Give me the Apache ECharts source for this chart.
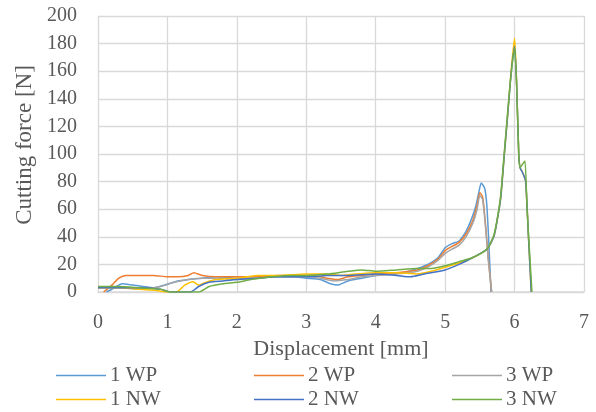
<!DOCTYPE html>
<html>
<head>
<meta charset="utf-8">
<script src="https://cdn.jsdelivr.net/npm/echarts@6/dist/echarts.min.js"></script>
<style>
html,body{margin:0;padding:0;background:#fff;}
#c{width:596px;height:412px;}
</style>
</head>
<body>
<div id="c"></div>
<script>
// Tick labels
const xTicks = [0, 1, 2, 3, 4, 5, 6, 7];
const yTicks = [0, 20, 40, 60, 80, 100, 120, 140, 160, 180, 200];

// Series names
const seriesNames = ['1 WP', '2 WP', '3 WP', '1 NW', '2 NW', '3 NW'];

// Series values: [displacement mm, force N]
const wp1 = [[0.12,0],[0.2,2],[0.35,6],[0.5,5],[0.65,4],[0.8,3],[0.95,5],[1.15,8],[1.3,9],[1.5,10],[1.7,11],[2.0,10],[2.2,10],[2.5,11],[2.8,11],[3.0,10],[3.2,9],[3.35,6],[3.45,5],[3.6,8],[3.8,10],[4.0,12],[4.2,13],[4.4,14],[4.6,17],[4.75,20],[4.9,25],[5.0,32],[5.1,35],[5.2,37],[5.3,44],[5.38,53],[5.44,62],[5.48,71],[5.52,79],[5.57,75],[5.6,63],[5.63,35],[5.66,0]];
const wp2 = [[0.08,0],[0.2,5],[0.3,10],[0.4,12],[0.6,12],[0.8,12],[1.0,11],[1.15,11],[1.3,12],[1.38,14],[1.5,12],[1.7,11],[2.0,11],[2.3,11],[2.6,12],[2.9,12],[3.1,12],[3.3,10],[3.45,9],[3.6,11],[3.8,12],[4.0,13],[4.3,14],[4.6,16],[4.75,19],[4.9,24],[5.0,30],[5.1,33],[5.2,36],[5.3,42],[5.4,52],[5.46,63],[5.5,72],[5.54,69],[5.58,50],[5.62,25],[5.67,0]];
const wp3 = [[0,3],[0.3,3],[0.6,2],[0.9,4],[1.1,7],[1.3,9],[1.5,10],[1.8,10],[2.0,9],[2.3,10],[2.6,11],[3.0,11],[3.2,10],[3.4,8],[3.6,9],[3.8,11],[4.0,12],[4.3,13],[4.6,15],[4.75,18],[4.9,23],[5.0,28],[5.1,31],[5.2,34],[5.3,40],[5.4,50],[5.46,60],[5.5,70],[5.54,67],[5.58,48],[5.62,24],[5.67,0]];
const nw1 = [[0,3],[0.3,3],[0.6,2],[0.85,1],[1.0,0],[1.13,0],[1.25,5],[1.37,7.5],[1.45,5],[1.55,7],[1.7,9],[2.0,10],[2.3,12],[2.6,12],[3.0,13],[3.3,13],[3.5,12],[3.7,13],[4.0,14],[4.3,14],[4.6,13],[4.8,15],[5.0,18],[5.2,21],[5.4,25],[5.6,31],[5.7,40],[5.75,52],[5.8,68],[5.85,98],[5.9,128],[5.95,160],[6.0,184],[6.03,150],[6.06,100],[6.08,90],[6.12,86],[6.16,80],[6.2,40],[6.24,0]];
const nw2 = [[0,3],[0.3,3],[0.6,3],[0.9,2],[1.05,0],[1.33,0],[1.45,4],[1.6,7],[1.8,8],[2.0,9],[2.3,10],[2.6,11],[3.0,11],[3.3,12],[3.6,12],[4.0,13],[4.3,12],[4.5,11],[4.7,13],[5.0,16],[5.2,20],[5.4,25],[5.6,31],[5.7,40],[5.75,52],[5.8,68],[5.85,98],[5.9,128],[5.95,158],[6.0,178],[6.03,150],[6.06,100],[6.08,90],[6.12,86],[6.16,80],[6.2,40],[6.24,0]];
const nw3 = [[0,4],[0.3,4],[0.6,3],[0.9,2],[1.05,0],[1.45,0],[1.6,4],[1.8,6],[2.0,7],[2.2,9],[2.5,11],[2.8,12],[3.0,12],[3.3,13],[3.6,15],[3.8,16],[4.0,15],[4.3,16],[4.6,17],[4.8,17],[5.0,19],[5.2,22],[5.4,25],[5.6,31],[5.7,41],[5.75,53],[5.8,70],[5.85,100],[5.9,130],[5.95,158],[6.0,177],[6.03,150],[6.06,100],[6.08,90],[6.12,93],[6.15,95],[6.18,60],[6.25,0]];

const seriesData = [wp1, wp2, wp3, nw1, nw2, nw3];
const colors = ['#5B9BD5', '#ED7D31', '#A5A5A5', '#FFC000', '#4472C4', '#70AD47'];

const FONT = '"Liberation Serif", "Times New Roman", serif';
const TXT = '#595959';
const GRID = '#D9D9D9';

const legendLeft = [56, 254, 452];
const legendTop = [365, 389];
const legends = seriesNames.map((n, i) => ({
  data: [n],
  left: legendLeft[i % 3],
  top: legendTop[Math.floor(i / 3)],
  padding: 0,
  icon: 'rect',
  itemWidth: 50,
  itemHeight: 1.5,
  itemGap: 0,
  textStyle: { fontFamily: FONT, fontSize: 21, color: TXT, padding: [0, 0, 0, -1] },
  selectedMode: false
}));

const chart = echarts.init(document.getElementById('c'), null, { renderer: 'canvas' });
chart.setOption({
  animation: false,
  backgroundColor: '#fff',
  color: colors,
  grid: { left: 98, right: 12, top: 16, bottom: 120 },
  legend: legends,
  xAxis: {
    type: 'value',
    min: xTicks[0],
    max: xTicks[xTicks.length - 1],
    interval: 1,
    name: 'Displacement [mm]',
    nameLocation: 'middle',
    nameGap: 40,
    nameTextStyle: { fontFamily: FONT, fontSize: 22, color: TXT },
    axisLine: { show: true, lineStyle: { color: GRID, width: 1.5 } },
    axisTick: { show: false },
    axisLabel: { fontFamily: FONT, fontSize: 20, color: TXT, margin: 21 },
    splitLine: { show: true, lineStyle: { color: GRID, width: 1.3 } }
  },
  yAxis: {
    type: 'value',
    min: yTicks[0],
    max: yTicks[yTicks.length - 1],
    interval: 20,
    name: 'Cutting force [N]',
    nameLocation: 'middle',
    nameGap: 60,
    nameTextStyle: { fontFamily: FONT, fontSize: 23, color: TXT, padding: [0, 0, 0, 18] },
    axisLine: { show: false },
    axisTick: { show: false },
    axisLabel: { fontFamily: FONT, fontSize: 20, color: TXT, margin: 21 },
    splitLine: { show: true, lineStyle: { color: GRID, width: 1.3 } }
  },
  series: seriesNames.map((n, i) => ({
    name: n,
    type: 'line',
    data: seriesData[i],
    symbol: 'none',
    smooth: 0.2,
    lineStyle: { width: 1.5, color: colors[i] },
    itemStyle: { color: colors[i] }
  }))
});
</script>
</body>
</html>
